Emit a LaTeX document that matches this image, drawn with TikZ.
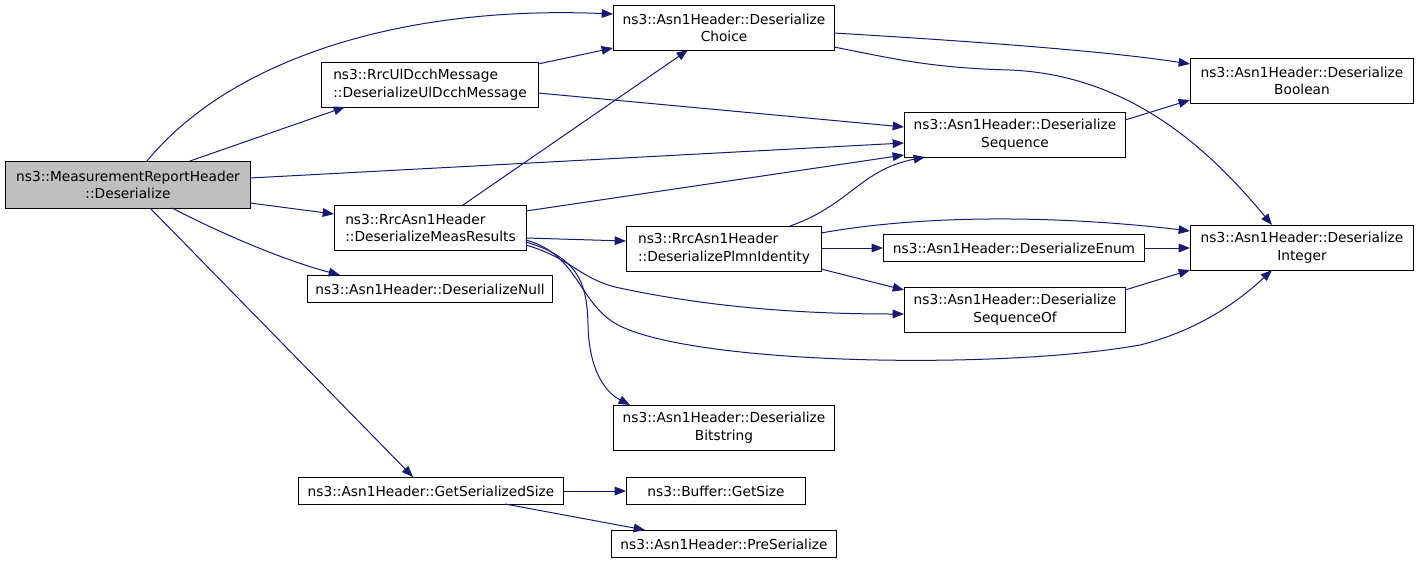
\documentclass[tikz,border=0pt]{standalone}
\usepackage{fontspec}
\setmainfont{DejaVu Sans}
\usetikzlibrary{arrows.meta,calc}
\definecolor{edgec}{HTML}{191970}
\definecolor{rootfill}{HTML}{BFBFBF}
\begin{document}
\begin{tikzpicture}[x=0.75pt,y=-0.75pt,
  box/.style={draw=black,line width=0.75pt,fill=white,inner sep=0pt,anchor=north west,
    font=\fontsize{10.3}{13.2}\selectfont,minimum height=45*0.75pt},
  one/.style={minimum height=27*0.75pt},
  bw/.style={minimum width=#1*0.75pt},
  call/.style={draw=edgec,line width=0.75pt,-{Triangle[length=8.5pt,width=6.5pt]}}]
\useasboundingbox (0,0) rectangle (1419,564);
% nodes
\node[box,bw=245,fill=rootfill,align=center,minimum height=47*0.75pt] (mrh) at (5,161) {ns3::MeasurementReportHeader\\::Deserialize};
\node[box,bw=217,align=left] (ul) at (321,62) {ns3::RrcUlDcchMessage\\::DeserializeUlDcchMessage};
\node[box,bw=221,align=center] (choice) at (613,5) {ns3::Asn1Header::Deserialize\\Choice};
\node[box,bw=223,align=center] (bool) at (1190,58) {ns3::Asn1Header::Deserialize\\Boolean};
\node[box,bw=221,align=center] (seq) at (904,112) {ns3::Asn1Header::Deserialize\\Sequence};
\node[box,bw=192,align=left] (meas) at (334,205) {ns3::RrcAsn1Header\\::DeserializeMeasResults};
\node[box,bw=195,align=left] (plmn) at (626,226) {ns3::RrcAsn1Header\\::DeserializePlmnIdentity};
\node[box,one,bw=261] (enum) at (883,234) {ns3::Asn1Header::DeserializeEnum};
\node[box,bw=223,align=center] (int) at (1190,225) {ns3::Asn1Header::Deserialize\\Integer};
\node[box,bw=221,align=center] (seqof) at (904,287) {ns3::Asn1Header::Deserialize\\SequenceOf};
\node[box,one,bw=245] (null) at (307,275) {ns3::Asn1Header::DeserializeNull};
\node[box,bw=221,align=center] (bits) at (613,405) {ns3::Asn1Header::Deserialize\\Bitstring};
\node[box,one,bw=265] (gss) at (298,477) {ns3::Asn1Header::GetSerializedSize};
\node[box,one,bw=179] (gsz) at (626,477) {ns3::Buffer::GetSize};
\node[box,one,bw=225] (pre) at (611,530) {ns3::Asn1Header::PreSerialize};
% edges
\draw[call] ($(mrh.north west)+(142,0)$) .. controls (230,60) and (400,5) .. ($(choice.north west)+(0,9)$);
\draw[call] ($(mrh.north west)+(185,0)$) -- ($(ul.north west)+(24,45)$);
\draw[call] ($(mrh.north west)+(245,17)$) -- ($(seq.north west)+(0,31)$);
\draw[call] ($(mrh.north west)+(245,42)$) -- ($(meas.north west)+(0,9)$);
\draw[call] ($(mrh.north west)+(167,47)$) .. controls (230,238) and (290,262) .. ($(null.north west)+(33,0)$);
\draw[call] ($(mrh.north west)+(145,47)$) -- ($(gss.north west)+(115,0)$);
\draw[call] ($(ul.north west)+(217,2)$) -- ($(choice.north west)+(0,43)$);
\draw[call] ($(ul.north west)+(217,31)$) -- ($(seq.north west)+(0,15)$);
\draw[call] ($(meas.north west)+(129,0)$) -- ($(choice.north west)+(75,45)$);
\draw[call] ($(meas.north west)+(192,6)$) -- ($(seq.north west)+(0,43)$);
\draw[call] ($(meas.north west)+(192,33)$) -- ($(plmn.north west)+(0,15)$);
\draw[call] ($(meas.north west)+(192,40)$) .. controls (570,258) and (580,278) .. (615,287) .. controls (720,310) and (820,314) .. ($(seqof.north west)+(0,27)$);
\draw[call] ($(meas.north west)+(192,35)$) .. controls (580,255) and (578,305) .. (620,326) .. controls (700,365) and (1000,370) .. (1140,345) .. controls (1200,330) and (1240,300) .. ($(int.north west)+(82,45)$);
\draw[call] ($(meas.north west)+(192,37)$) .. controls (580,258) and (587,285) .. (588,325) .. controls (589,370) and (605,392) .. ($(bits.north west)+(17,0)$);
\draw[call] ($(choice.north west)+(221,28)$) .. controls (950,40) and (1100,50) .. ($(bool.north west)+(0,6)$);
\draw[call] ($(choice.north west)+(221,42)$) .. controls (890,58) and (930,68) .. (1010,70) .. controls (1130,75) and (1210,150) .. ($(int.north west)+(82,0)$);
\draw[call] ($(seq.north west)+(221,8)$) -- ($(bool.north west)+(0,42)$);
\draw[call] ($(plmn.north west)+(164,0)$) .. controls (850,205) and (860,170) .. ($(seq.north west)+(21,45)$);
\draw[call] ($(plmn.north west)+(195,7)$) .. controls (950,210) and (1100,220) .. ($(int.north west)+(0,6)$);
\draw[call] ($(plmn.north west)+(195,22)$) -- ($(enum.north west)+(0,14)$);
\draw[call] ($(plmn.north west)+(195,43)$) -- ($(seqof.north west)+(0,3)$);
\draw[call] ($(enum.north west)+(261,14)$) -- ($(int.north west)+(0,23)$);
\draw[call] ($(seqof.north west)+(221,3)$) -- ($(int.north west)+(0,45)$);
\draw[call] ($(gss.north west)+(265,14)$) -- ($(gsz.north west)+(0,14)$);
\draw[call] ($(gss.north west)+(207,27)$) -- ($(pre.north west)+(34,0)$);
\end{tikzpicture}
\end{document}
